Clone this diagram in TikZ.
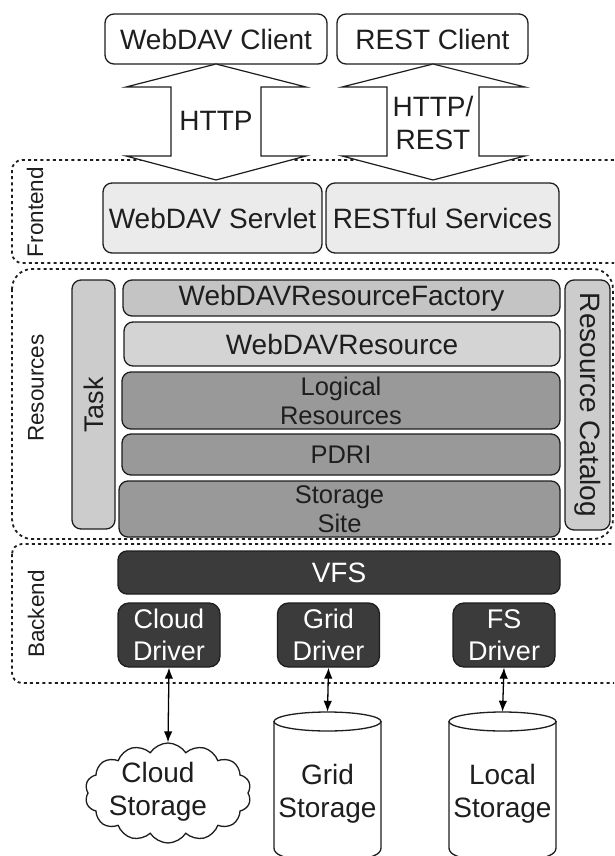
\documentclass[tikz,border=0pt]{standalone}
\usepackage{fontspec}
\setmainfont{Liberation Sans}
\usetikzlibrary{shapes.geometric,shapes.symbols,arrows.meta}
\definecolor{ink}{HTML}{1E1E1E}
\tikzset{
 x=1pt,y=-1pt,
 box/.style={draw=ink,line width=1.3pt,rounded corners=9pt,minimum width=#1,inner sep=0pt,align=center,text=ink},
 client/.style={box=#1,fill=white,minimum height=50pt,font=\fontsize{28}{30}\selectfont},
 front/.style={box=#1,fill=black!8,minimum height=70pt,font=\fontsize{28}{30}\selectfont},
 res/.style={box=#1,font=\fontsize{28}{29}\selectfont},
 resb/.style={box=#1,fill=black!40,font=\fontsize{25.5}{29}\selectfont},
 drv/.style={box=102pt,fill=black!77,text=white,minimum height=64pt,rounded corners=11pt,font=\fontsize{27}{32}\selectfont},
 zone/.style={draw=ink,line width=1.8pt,dash pattern=on 3pt off 3.2pt,rounded corners=#1},
 zonelabel/.style={rotate=90,font=\fontsize{22.5}{24}\selectfont,text=ink},
 bigarrow/.style={draw=ink,line width=1.2pt,fill=white,line join=miter},
 link/.style={draw=black,line width=1.3pt,{Latex[length=11pt,width=8.5pt]}-{Latex[length=11pt,width=8.5pt]}},
 drum/.style={draw=ink,line width=1.3pt},
 txt/.style={inner sep=0pt,align=center,text=ink,font=\fontsize{28}{33}\selectfont},
 storelabel/.style={txt,minimum width=107pt,minimum height=164pt},
}
\begin{document}
\begin{tikzpicture}
\useasboundingbox (0,0) rectangle (614,856);
\clip (0,0) rectangle (614,856);
\fill[white] (0,0) rectangle (614,856);
% zones
\draw[zone=10pt] (12,160) rectangle (640,263);
\draw[zone=20pt] (12,269) rectangle (613,539);
\draw[zone=10pt] (12,544) rectangle (640,683);
\node[zonelabel] (zf) at (35,212) {Frontend};
\node[zonelabel] (zr) at (36,388) {Resources};
\node[zonelabel] (zb) at (36,614) {Backend};
% clients
\node[client=222pt] (wc) at (216,39) {WebDAV Client};
\node[client=191pt] (rc) at (432.5,39) {REST Client};
% front
\node[front=219pt] (ws) at (212.5,218) {WebDAV Servlet};
\node[front=233pt] (rs) at (442.5,218) {RESTful Services};
% big arrows
\draw[bigarrow] (216,64) -- (306,87) -- (261,87) -- (261,156) -- (306,156) -- (216,180) -- (126,156) -- (171,156) -- (171,87) -- (126,87) -- cycle;
\draw[bigarrow] (433,64) -- (525,87) -- (479,87) -- (479,156) -- (525,156) -- (433,180) -- (342,156) -- (387,156) -- (387,87) -- (342,87) -- cycle;
\node[txt] (h1) at (216,121) {HTTP};
\node[txt] (h2) at (433,123) {HTTP/\\REST};
% resources
\node[box=43pt,fill=black!20,minimum height=249pt] (task) at (93.5,404.5) {};
\node[rotate=90,text=ink,font=\fontsize{27}{30}\selectfont] (tasklabel) at (93.5,405) {Task};
\node[res=437pt,fill=black!23,minimum height=36pt] (fac) at (341.5,298) {WebDAVResourceFactory};
\node[res=436pt,fill=black!17,minimum height=44pt] (wr) at (342,344) {WebDAVResource};
\node[resb=438pt,minimum height=57pt] (lr) at (341,400.5) {Logical\\Resources};
\node[resb=438pt,minimum height=41pt] (pd) at (341,454.5) {PDRI};
\node[resb=441pt,minimum height=56pt] (ss) at (339.5,509) {Storage\\Site};
\node[box=45pt,fill=black!20,minimum height=250pt] (cat) at (587.5,405) {};
\node[rotate=-90,text=ink,font=\fontsize{28}{30}\selectfont] (catlabel) at (587.5,405) {Resource Catalog};
% backend
\node[box=442pt,fill=black!77,text=white,minimum height=43pt,font=\fontsize{28}{30}\selectfont] (vfs) at (339,572.5) {VFS};
\node[drv] (cd) at (169,635) {Cloud\\Driver};
\node[drv] (gd) at (328.5,635) {Grid\\Driver};
\node[drv] (fd) at (504,635) {FS\\Driver};
% storage
\node[draw=ink,line width=1.3pt,cloud,cloud puffs=14,cloud puff arc=115,aspect=1.6,minimum width=166pt,minimum height=100pt,inner sep=0pt] (cs) at (168,793) {};
\node[txt] (cst) at (158,792) {Cloud\\Storage};
\draw[drum] (274,721) -- (274,848) .. controls (274,855) and (285,858) .. (300,860) -- (355,860) .. controls (370,858) and (381,855) .. (381,848) -- (381,721);
\draw[drum] (327.5,721.5) ellipse [x radius=53.5pt,y radius=9.5pt];
\draw[drum] (449,721) -- (449,848) .. controls (449,855) and (460,858) .. (475,860) -- (530,860) .. controls (545,858) and (556,855) .. (556,848) -- (556,721);
\draw[drum] (502.5,721.5) ellipse [x radius=53.5pt,y radius=9.5pt];
\node[storelabel] (gs) at (327.5,794) {Grid\\Storage};
\node[storelabel] (ls) at (502.5,794) {Local\\Storage};
\draw[link] (cd.south) -- (cs.north);
\draw[link] (gd.south) -- (gs.north);
\draw[link] (fd.south) -- (ls.north);
\end{tikzpicture}
\end{document}
